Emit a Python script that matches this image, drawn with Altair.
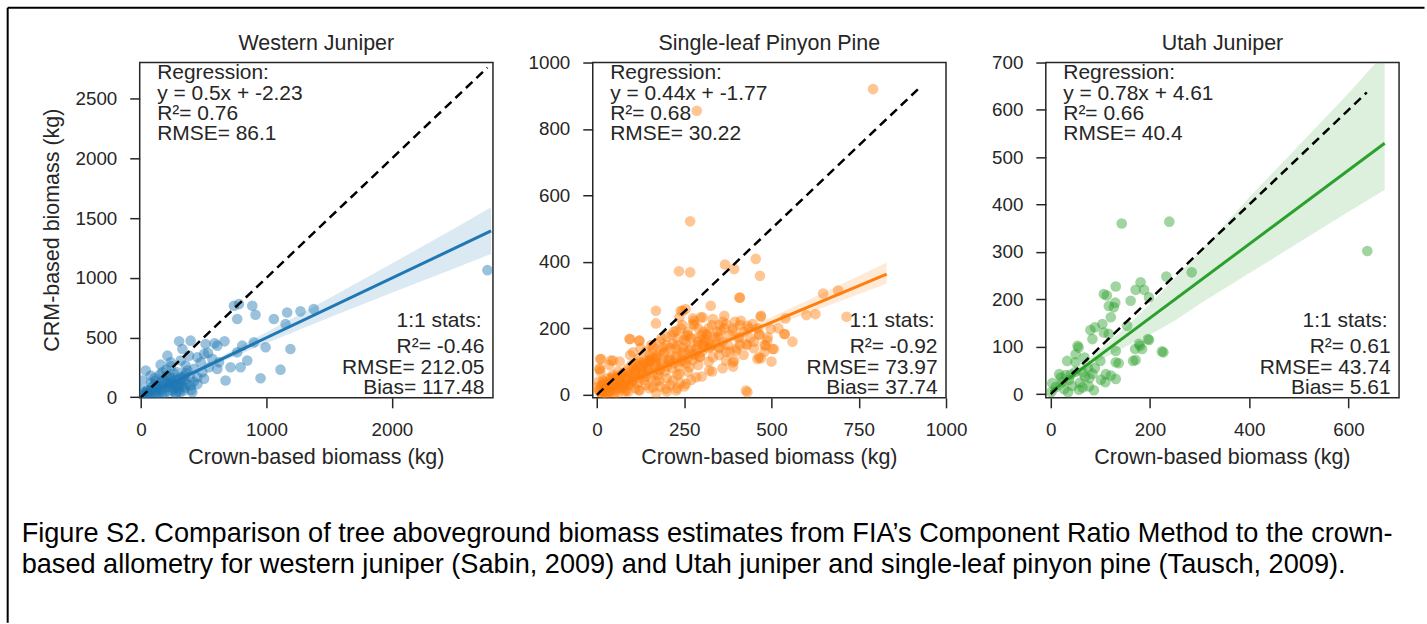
import altair as alt
import pandas as pd

FONT = "Liberation Sans"
TXT = "#262626"

# ---------------- Western Juniper ----------------
wj_x = [741, 781, 887, 913, 767, 1059, 1165, 1271, 1377, 1152, 1191, 1112, 953, 993, 900, 807, 767, 847, 794, 714,
        674, 666, 587, 515, 534, 608, 622, 503, 449, 396, 304, 211, 157, 38, 78, 330, 423, 370, 290, 237,
        184, 118, 343, 396, 290, 211, 131, 52, 250, 343, 449, 476, 542, 608, 237, 12, 0, 171, 317, 383,
        105, 184, 264, 317, 489, 569, 410, 277, 65, 503, 356, 2761,
        60, 90, 120, 150, 180, 200, 220, 250, 280, 300, 320, 350, 260, 230, 170, 140, 100, 40, 20, 300, 330, 370, 280,
        10, 30, 50, 70, 90, 110, 130, 160, 190, 210, 240, 270, 300, 330, 360, 390, 420, 80, 110, 150,
        200, 240, 120, 170, 220, 260, 310, 350, 400, 450]
wj_y = [766, 780, 766, 691, 655, 655, 710, 719, 739, 613, 404, 231, 159, 418, 460, 432, 376, 307, 251, 251,
        140, 468, 451, 446, 371, 237, 292, 154, 334, 474, 468, 348, 273, 223, 181, 404, 237, 223, 209, 167,
        140, 140, 140, 98, 84, 84, 70, 56, 56, 56, 167, 292, 251, 432, 292, 140, 56, 209, 307, 348,
        42, 28, 112, 167, 209, 321, 42, 28, 28, 363, 265, 1064,
        40, 60, 80, 70, 100, 120, 90, 130, 100, 150, 120, 180, 200, 160, 60, 30, 20, 20, 10, 60, 90, 110, 30,
        20, 40, 60, 50, 90, 110, 100, 130, 150, 180, 110, 140, 100, 160, 200, 170, 130, 120, 160, 190,
        230, 260, 30, 20, 50, 70, 40, 80, 60, 110]
wj_line_x = [0, 2790]
wj_line_y = [-2.23, 1392.8]
wj_band_x = [0, 300, 500, 1000, 1500, 2000, 2500, 2790]
wj_band_lo = [-22, 135, 233, 452, 668, 875, 1080, 1200]
wj_band_hi = [18, 162, 263, 545, 828, 1120, 1415, 1590]

# ---------------- Single-leaf Pinyon Pine ----------------
sp_x = [791, 286, 267, 235, 267, 367, 393, 455, 467, 410, 326, 169, 169, 95, 121, 469, 538, 648, 626, 691,
        715, 431, 9, 7, 40, 507, 483, 464, 488, 498, 412, 431, 393, 350, 326, 297, 278, 240, 254,
        408, 470, 537, 503, 460, 389, 427, 93, 122, 12, 46, 8, 103, 246, 236, 275, 303, 332, 355, 389,
        408, 427, 398, 322, 294, 351, 227, 217, 189, 208, 246, 265, 236, 179, 151, 132, 103, 74, 55, 27,
        227, 198, 160, 122, 84, 284, 322, 303, 370, 365, 313, 255, 275, 246, 170, 141, 112, 46, 17, 0,
        8, 36, 65, 93, 179, 217, 255, 446, 489, 465, 332, 370, 160,
        20, 30, 40, 50, 60, 70, 80, 90, 100, 110, 120, 130, 140, 150, 160, 170, 180, 190, 200, 210,
        220, 230, 240, 250, 260, 270, 280, 290, 300, 310, 320, 340, 360, 380, 30, 60, 90, 120, 150, 180,
        200, 230, 260, 290, 320, 350, 50, 80, 110, 140, 170, 200, 230, 260, 290, 320, 350, 380, 410, 440,
        15, 25, 45, 75, 105, 135, 165, 195, 225, 255, 285, 315, 345, 375, 405, 435, 465, 10, 5, 35,
        65, 95, 125, 155, 185, 215, 245, 275, 305, 335, 365, 395, 520, 560, 600, 480, 470, 500, 540,
        15, 25, 35, 45, 55, 65, 75, 85, 95, 105, 115, 125, 135, 145, 155, 165, 175, 185, 195, 205,
        215, 225, 235, 245, 255, 265, 275, 285, 295, 305, 20, 40, 60, 80, 100, 120, 140, 160, 180, 200,
        220, 240, 260, 280, 300, 330, 360, 390, 420, 450, 30, 60, 90, 120, 150, 180, 210, 240, 270, 300,
        330, 360, 390, 420, 450, 480, 200, 230, 170, 250, 50, 70, 110, 130, 150, 170, 190, 210, 230, 250,
        270, 290, 310, 330, 350, 370, 400, 430, 460, 410, 5, 12, 18, 22, 28, 33, 38, 48, 58, 68,
        78, 88, 98, 108, 118, 128, 138, 148, 158, 168]
sp_y = [920, 855, 522, 372, 369, 392, 379, 409, 358, 292, 268, 253, 215, 168, 163, 235, 183, 305, 243, 314,
        235, 8, 108, 78, 103, 138, 148, 113, 163, 198, 223, 208, 103, 173, 143, 233, 223, 253, 258,
        293, 238, 183, 138, 108, 98, 13, 168, 163, 108, 103, 78, 128, 253, 233, 213, 233, 228, 193, 193,
        173, 153, 133, 153, 113, 143, 193, 153, 143, 103, 143, 83, 63, 73, 103, 63, 43, 63, 33, 23,
        13, 18, 23, 13, 13, 53, 73, 153, 213, 238, 183, 178, 123, 103, 113, 83, 93, 53, 43, 23,
        8, 8, 23, 33, 43, 43, 33, 213, 173, 183, 113, 103, 148,
        10, 20, 15, 30, 20, 40, 30, 50, 40, 60, 50, 70, 55, 80, 65, 90, 75, 100, 85, 110,
        95, 120, 100, 130, 110, 140, 120, 150, 130, 160, 140, 170, 160, 180, 50, 70, 80, 100, 120, 130,
        150, 170, 180, 200, 200, 210, 5, 10, 20, 30, 40, 50, 60, 70, 90, 100, 120, 130, 150, 170,
        30, 5, 60, 20, 80, 100, 110, 130, 140, 160, 170, 180, 190, 150, 170, 200, 180, 70, 40, 90,
        100, 120, 140, 150, 170, 180, 210, 230, 190, 175, 200, 220, 200, 160, 240, 130, 110, 100, 230,
        5, 15, 10, 25, 15, 35, 25, 45, 30, 55, 35, 60, 45, 75, 50, 85, 60, 95, 70, 105,
        80, 115, 85, 125, 95, 135, 105, 140, 115, 150, 40, 50, 55, 70, 90, 110, 130, 140, 160, 175,
        190, 200, 190, 210, 180, 210, 220, 200, 190, 160, 0, 5, 10, 15, 20, 25, 30, 35, 45, 55,
        70, 80, 85, 120, 140, 150, 10, 20, 5, 25, 45, 60, 75, 90, 100, 120, 125, 140, 150, 165,
        170, 160, 170, 150, 140, 130, 140, 150, 200, 210, 15, 25, 8, 30, 20, 35, 28, 38, 48, 50,
        55, 65, 62, 70, 85, 80, 95, 105, 110, 100]
sp_line_x = [0, 830]
sp_line_y = [-1.77, 363.4]
sp_band_x = [0, 200, 400, 600, 830]
sp_band_lo = [-8, 82, 167, 244, 334]
sp_band_hi = [4, 92, 186, 282, 398]

# ---------------- Utah Juniper ----------------
uj_x = [143, 239, 638, 284, 233, 181, 171, 188, 131, 107, 113, 161, 198, 117, 130, 127, 121, 154, 104, 80,
        89, 84, 107, 117, 178, 198, 184, 171, 224, 227, 131, 54, 56, 50, 68, 50, 33, 131, 137, 111,
        121, 131, 84, 78, 64, 87, 17, 20, 37, 30, 3, 10, 27, 43, 59, 69, 89, 100, 75, 64,
        50, 40, 23, 1, 35, 57, 77, 101, 110, 166, 170, 180, 196]
uj_y = [360, 364, 302, 257, 248, 236, 220, 220, 227, 211, 208, 197, 204, 186, 193, 183, 162, 144, 148, 135,
        141, 116, 130, 127, 106, 114, 95, 72, 90, 88, 91, 102, 98, 84, 77, 67, 70, 67, 65, 42,
        39, 32, 43, 34, 14, 8, 42, 35, 30, 40, 23, 15, 10, 17, 24, 36, 55, 70, 55, 46,
        47, 41, 25, 4, 4, 9, 16, 30, 25, 70, 95, 102, 116]
uj_line_x = [0, 673]
uj_line_y = [4.61, 529.6]
uj_band_x = [0, 50, 100, 150, 200, 250, 300, 400, 500, 600, 673]
uj_band_lo = [-8, 35, 72, 100, 125, 155, 190, 255, 320, 385, 431]
uj_band_hi = [16, 52, 95, 140, 190, 245, 300, 415, 525, 635, 720]

titles = ["Western Juniper", "Single-leaf Pinyon Pine", "Utah Juniper"]
reg_texts = [
    ["Regression:", "y = 0.5x + -2.23", "R\u00b2= 0.76", "RMSE= 86.1"],
    ["Regression:", "y = 0.44x + -1.77", "R\u00b2= 0.68", "RMSE= 30.22"],
    ["Regression:", "y = 0.78x + 4.61", "R\u00b2= 0.66", "RMSE= 40.4"],
]
stat_texts = [
    ["R\u00b2= -0.46", "RMSE= 212.05", "Bias= 117.48"],
    ["R\u00b2= -0.92", "RMSE= 73.97", "Bias= 37.74"],
    ["R\u00b2= 0.61", "RMSE= 43.74", "Bias= 5.61"],
]
x_title = "Crown-based biomass (kg)"
y_title = "CRM-based biomass (kg)"
caption = [
    "Figure S2. Comparison of tree aboveground biomass estimates from FIA\u2019s Component Ratio Method to the crown-",
    "based allometry for western juniper (Sabin, 2009) and Utah juniper and single-leaf pinyon pine (Tausch, 2009).",
]

W, H = 354, 336
ONE = alt.Data(values=[{}])


def txt(text, x, y, size=21, align="left", color=TXT, angle=0, line_height=None):
    kw = dict(text=text, font=FONT, fontSize=size, align=align, baseline="alphabetic", color=color)
    if angle:
        kw["angle"] = angle
    if line_height:
        kw["lineHeight"] = line_height
    return alt.Chart(ONE).mark_text(**kw).encode(x=alt.value(x), y=alt.value(y))


def panel(i, px, py, color, xdom, ydom, xticks, yticks, lx, ly, bx, blo, bhi, one_max, extra=None):
    xs = alt.Scale(domain=xdom, nice=False, zero=False)
    ys = alt.Scale(domain=ydom, nice=False, zero=False)
    common = dict(grid=False, domain=False, ticks=True, tickSize=10, tickWidth=1.5, tickColor=TXT,
                  labelFont=FONT, labelFontSize=18.8, labelColor=TXT, labelPadding=13,
                  labelFlush=False, labelOverlap=False, format="d", title=None)
    xax = alt.Axis(values=xticks, **common)
    yax = alt.Axis(values=yticks, **common)

    band = alt.Chart(pd.DataFrame({"x": bx, "lo": blo, "hi": bhi})).mark_area(
        color=color, opacity=0.16, clip=True
    ).encode(x=alt.X("x:Q", scale=xs, axis=xax), y=alt.Y("lo:Q", scale=ys, axis=yax), y2="hi:Q")
    pts = alt.Chart(pd.DataFrame({"x": px, "y": py})).mark_circle(
        size=113, opacity=0.45, color=color, clip=True
    ).encode(x=alt.X("x:Q", scale=xs, axis=xax), y=alt.Y("y:Q", scale=ys, axis=yax))
    reg = alt.Chart(pd.DataFrame({"x": lx, "y": ly})).mark_line(
        color=color, strokeWidth=3, clip=True
    ).encode(x=alt.X("x:Q", scale=xs, axis=xax), y=alt.Y("y:Q", scale=ys, axis=yax))
    one = alt.Chart(pd.DataFrame({"x": [0, one_max], "y": [0, one_max]})).mark_line(
        color="black", strokeWidth=2.5, strokeDash=[9, 5.5], clip=True
    ).encode(x=alt.X("x:Q", scale=xs, axis=xax), y=alt.Y("y:Q", scale=ys, axis=yax))

    layers = [band, pts, reg, one,
              txt(titles[i], W / 2, -13, size=21.5, align="center"),
              txt(x_title, W / 2, 402.5, size=21.5, align="center"),
              txt(reg_texts[i], 17.5, 16.8, line_height=20.3),
              txt("1:1 stats:", W - 11.5, 265.2, align="right"),
              txt(stat_texts[i], W - 8.5, 291.5, align="right", line_height=20.2)]
    if extra:
        layers += extra
    return alt.layer(*layers).properties(width=W, height=H)


extra1 = [
    txt(y_title, -80.8, H / 2, size=21.5, align="center", angle=270),
    alt.Chart(ONE).mark_rule(color="black", strokeWidth=2).encode(
        x=alt.value(-132.3), x2=alt.value(1287.5), y=alt.value(-55)),
    alt.Chart(ONE).mark_rule(color="black", strokeWidth=2).encode(
        x=alt.value(-132.3), y=alt.value(-55), y2=alt.value(561.5)),
    txt(caption, -118.3, 480, size=27.2, color="black", line_height=32),
]

p1 = panel(0, wj_x, wj_y, "#1f77b4", [-10, 2805], [-5, 2803], [0, 1000, 2000], [0, 500, 1000, 1500, 2000, 2500],
           wj_line_x, wj_line_y, wj_band_x, wj_band_lo, wj_band_hi, 2761, extra1)
p2 = panel(1, sp_x, sp_y, "#ff7f0e", [-12, 1000], [-9, 1000], [0, 250, 500, 750, 1000], [0, 200, 400, 600, 800, 1000],
           sp_line_x, sp_line_y, sp_band_x, sp_band_lo, sp_band_hi, 920)
p3 = panel(2, uj_x, uj_y, "#2ca02c", [-10, 702], [-8, 700], [0, 200, 400, 600], [0, 100, 200, 300, 400, 500, 600, 700],
           uj_line_x, uj_line_y, uj_band_x, uj_band_lo, uj_band_hi, 637)

chart = alt.hconcat(p1, p2, p3, spacing=100, bounds="flush").properties(
    padding={"left": 5, "top": 5, "right": 0, "bottom": 0},
    background="white",
).configure_view(stroke=TXT, strokeWidth=1.5)

chart.save("out.html", embed_options={"renderer": "svg", "actions": False})
